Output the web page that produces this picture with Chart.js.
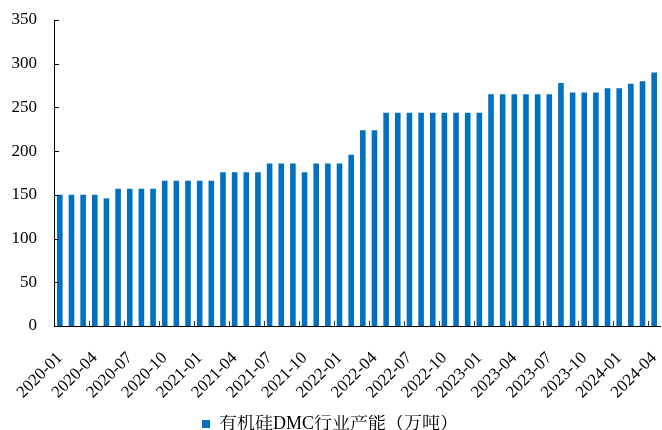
<!DOCTYPE html>
<html>
<head>
<meta charset="utf-8">
<script src="https://cdn.jsdelivr.net/npm/chart.js@4"></script>
<style>
  html, body { margin: 0; padding: 0; background: #fff; }
  #wrap { width: 662px; height: 430px; }
</style>
</head>
<body>
<div id="wrap"><canvas id="chart" width="662" height="430"></canvas></div>
<script>
// 月份
const months = [
    '2020-01', '2020-02', '2020-03', '2020-04', '2020-05', '2020-06', '2020-07', '2020-08', '2020-09', '2020-10', '2020-11', '2020-12',
    '2021-01', '2021-02', '2021-03', '2021-04', '2021-05', '2021-06', '2021-07', '2021-08', '2021-09', '2021-10', '2021-11', '2021-12',
    '2022-01', '2022-02', '2022-03', '2022-04', '2022-05', '2022-06', '2022-07', '2022-08', '2022-09', '2022-10', '2022-11', '2022-12',
    '2023-01', '2023-02', '2023-03', '2023-04', '2023-05', '2023-06', '2023-07', '2023-08', '2023-09', '2023-10', '2023-11', '2023-12',
    '2024-01', '2024-02', '2024-03', '2024-04'
];

// 有机硅DMC行业产能（万吨）
const capacity = [
    150, 150, 150, 150, 146, 157, 157, 157, 157, 166, 166, 166,
    166, 166, 176, 176, 176, 176, 186, 186, 186, 176, 186, 186,
    186, 196, 224, 224, 244, 244, 244, 244, 244, 244, 244, 244,
    244, 265, 265, 265, 265, 265, 265, 278, 267, 267, 267, 272,
    272, 277, 280, 290
];

const yTicks = [0, 50, 100, 150, 200, 250, 300, 350];

const serif = "'Times New Roman', 'Liberation Serif', 'Noto Serif CJK SC', 'Noto Sans CJK SC', serif";

// 向内的刻度线
const innerTicks = {
    id: 'innerTicks',
    afterDraw(chart) {
        const ctx = chart.ctx;
        const x = chart.scales.x;
        const y = chart.scales.y;
        const area = chart.chartArea;
        const half = (x.getPixelForValue(1) - x.getPixelForValue(0)) / 2;
        ctx.save();
        ctx.lineWidth = 1;
        ctx.strokeStyle = '#000';
        yTicks.forEach(v => {
            const py = Math.round(y.getPixelForValue(v)) + 0.5;
            ctx.beginPath();
            ctx.moveTo(area.left, py);
            ctx.lineTo(area.left + 5, py);
            ctx.stroke();
        });
        ctx.strokeStyle = '#333';
        for (let k = 3; k < months.length; k += 3) {
            const px = Math.round(x.getPixelForValue(k) - half) + 0.5;
            ctx.beginPath();
            ctx.moveTo(px, area.bottom);
            ctx.lineTo(px, area.bottom - 5);
            ctx.stroke();
        }
        ctx.restore();
    }
};

new Chart(document.getElementById('chart'), {
    type: 'bar',
    data: {
        labels: months,
        datasets: [{
            label: '有机硅DMC行业产能（万吨）',
            data: capacity,
            backgroundColor: '#0070C0',
            borderWidth: 0,
            categoryPercentage: 1,
            barPercentage: 0.48
        }]
    },
    options: {
        responsive: false,
        animation: false,
        layout: { padding: { top: 20, right: 2, left: 0, bottom: -13 } },
        plugins: {
            tooltip: { enabled: false },
            legend: {
                position: 'bottom',
                labels: {
                    color: '#000',
                    font: { family: serif, size: 18, lineHeight: 1 },
                    boxWidth: 8,
                    boxHeight: 8,
                    padding: 0
                }
            }
        },
        scales: {
            x: {
                grid: { display: false, drawTicks: false },
                border: { display: true, color: '#000', width: 1 },
                afterFit(scale) {
                    scale.height = 89;
                    scale.paddingLeft = 0;
                    scale.paddingRight = 0;
                },
                ticks: {
                    autoSkip: false,
                    minRotation: 45,
                    maxRotation: 45,
                    padding: 22,
                    color: '#000',
                    font: { family: serif, size: 17 },
                    callback(value, index) {
                        return index % 3 === 0 ? months[index] : '';
                    }
                }
            },
            y: {
                min: 0,
                max: 350,
                grid: { display: false, drawTicks: false },
                border: { display: true, color: '#000', width: 1 },
                afterFit(scale) {
                    scale.width = 54;
                    scale.paddingTop = 0;
                    scale.paddingBottom = 0;
                },
                ticks: {
                    stepSize: 50,
                    padding: 17,
                    color: '#000',
                    font: { family: serif, size: 17 }
                }
            }
        }
    },
    plugins: [innerTicks]
});
</script>
</body>
</html>
